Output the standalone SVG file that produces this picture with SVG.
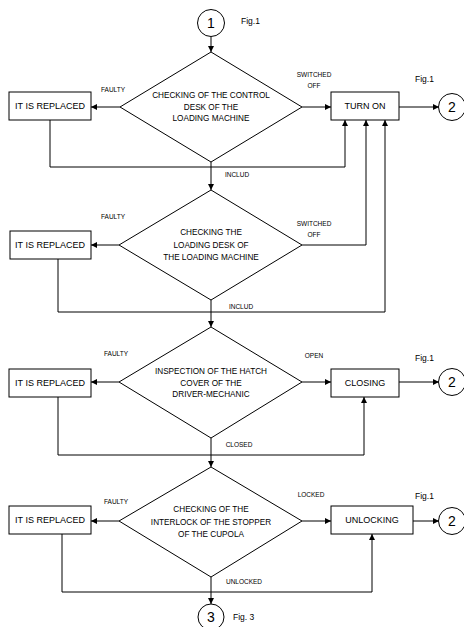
<svg xmlns="http://www.w3.org/2000/svg" width="464" height="627" viewBox="0 0 464 627">
<style>
.s{fill:none;stroke:#000;stroke-width:1}
.b{fill:#fff;stroke:#000;stroke-width:1}
text{font-family:"Liberation Sans",Arial,sans-serif;fill:#000;text-anchor:middle}
.bt{font-size:9px}
.dt{font-size:8.2px}
.lb{font-size:6.5px}
.fg{font-size:8.5px;text-anchor:start}
.cn{font-size:14px}
</style>
<defs>
<marker id="ar" viewBox="0 0 10 10" refX="10" refY="5" markerWidth="6" markerHeight="6" markerUnits="userSpaceOnUse" orient="auto">
<path d="M0,0 L10,5 L0,10 z" fill="#000"/>
</marker>
</defs>
<g id="connectors">
<path class="s" d="M211,37 V52" marker-end="url(#ar)"/>
<path class="s" d="M120,107 H91" marker-end="url(#ar)"/>
<path class="s" d="M302,107 H331" marker-end="url(#ar)"/>
<path class="s" d="M399,107 H439" marker-end="url(#ar)"/>
<path class="s" d="M50,120 V167 H345 V120" marker-end="url(#ar)"/>
<path class="s" d="M211,162 V190" marker-end="url(#ar)"/>
<path class="s" d="M119,245 H91" marker-end="url(#ar)"/>
<path class="s" d="M302,245 H366 V120" marker-end="url(#ar)"/>
<path class="s" d="M58,259 V312 H385 V120" marker-end="url(#ar)"/>
<path class="s" d="M211,300 V327" marker-end="url(#ar)"/>
<path class="s" d="M119,382 H91" marker-end="url(#ar)"/>
<path class="s" d="M302,382 H331" marker-end="url(#ar)"/>
<path class="s" d="M399,382 H439" marker-end="url(#ar)"/>
<path class="s" d="M58,397 V455 H364 V397" marker-end="url(#ar)"/>
<path class="s" d="M211,438 V467" marker-end="url(#ar)"/>
<path class="s" d="M119,521 H91" marker-end="url(#ar)"/>
<path class="s" d="M302,521 H331" marker-end="url(#ar)"/>
<path class="s" d="M413,521 H439" marker-end="url(#ar)"/>
<path class="s" d="M62,534 V592 H372 V534" marker-end="url(#ar)"/>
<path class="s" d="M211,577 V604" marker-end="url(#ar)"/>
<text class="lb" x="113" y="92">FAULTY</text>
<text class="lb" x="314" y="77">SWITCHED</text>
<text class="lb" x="314" y="88">OFF</text>
<text class="lb" x="237" y="177">INCLUD</text>
<text class="lb" x="113" y="219">FAULTY</text>
<text class="lb" x="314" y="226">SWITCHED</text>
<text class="lb" x="314" y="237">OFF</text>
<text class="lb" x="241" y="309">INCLUD</text>
<text class="lb" x="116" y="356">FAULTY</text>
<text class="lb" x="314" y="358">OPEN</text>
<text class="lb" x="239" y="447">CLOSED</text>
<text class="lb" x="116" y="504">FAULTY</text>
<text class="lb" x="311" y="497">LOCKED</text>
<text class="lb" x="244" y="584">UNLOCKED</text>
<text class="fg" x="241" y="24">Fig.1</text>
<text class="fg" x="415" y="82">Fig.1</text>
<text class="fg" x="415" y="361">Fig.1</text>
<text class="fg" x="415" y="499">Fig.1</text>
<text class="fg" x="233" y="620">Fig. 3</text>
</g>
<g id="c1"><circle class="b" cx="211" cy="23" r="13.5"/><text class="cn" x="211" y="28">1</text></g>
<g id="d1"><polygon class="b" points="211,52 302,107 211,162 120,107"/>
<text class="dt" x="211" y="98">CHECKING OF THE CONTROL</text>
<text class="dt" x="211" y="110">DESK OF THE</text>
<text class="dt" x="211" y="121">LOADING MACHINE</text></g>
<g id="r1"><rect class="b" x="9" y="92" width="82" height="28"/><text class="bt" x="50" y="109">IT IS REPLACED</text></g>
<g id="turnon"><rect class="b" x="331" y="92" width="68" height="28"/><text class="bt" x="365" y="109">TURN ON</text></g>
<g id="c2a"><circle class="b" cx="452" cy="107" r="13.5"/><text class="cn" x="452" y="112">2</text></g>
<g id="d2"><polygon class="b" points="211,190 302,245 211,300 119,245"/>
<text class="dt" x="211" y="235">CHECKING THE</text>
<text class="dt" x="211" y="248">LOADING DESK OF</text>
<text class="dt" x="211" y="260">THE LOADING MACHINE</text></g>
<g id="r2"><rect class="b" x="10" y="231" width="81" height="28"/><text class="bt" x="50" y="248">IT IS REPLACED</text></g>
<g id="d3"><polygon class="b" points="211,327 302,382 211,438 119,382"/>
<text class="dt" x="211" y="374">INSPECTION OF THE HATCH</text>
<text class="dt" x="211" y="386">COVER OF THE</text>
<text class="dt" x="211" y="397">DRIVER-MECHANIC</text></g>
<g id="r3"><rect class="b" x="9" y="369" width="82" height="28"/><text class="bt" x="50" y="386">IT IS REPLACED</text></g>
<g id="closing"><rect class="b" x="331" y="369" width="68" height="28"/><text class="bt" x="365" y="386">CLOSING</text></g>
<g id="c2b"><circle class="b" cx="452" cy="382" r="13.5"/><text class="cn" x="452" y="387">2</text></g>
<g id="d4"><polygon class="b" points="211,467 302,521 211,577 119,521"/>
<text class="dt" x="211" y="512">CHECKING OF THE</text>
<text class="dt" x="211" y="525">INTERLOCK OF THE STOPPER</text>
<text class="dt" x="211" y="537">OF THE CUPOLA</text></g>
<g id="r4"><rect class="b" x="9" y="506" width="82" height="28"/><text class="bt" x="50" y="523">IT IS REPLACED</text></g>
<g id="unlocking"><rect class="b" x="331" y="506" width="82" height="28"/><text class="bt" x="372" y="523">UNLOCKING</text></g>
<g id="c2c"><circle class="b" cx="452" cy="521" r="13.5"/><text class="cn" x="452" y="526">2</text></g>
<g id="c3"><circle class="b" cx="211" cy="617" r="13"/><text class="cn" x="211" y="622">3</text></g>
</svg>
